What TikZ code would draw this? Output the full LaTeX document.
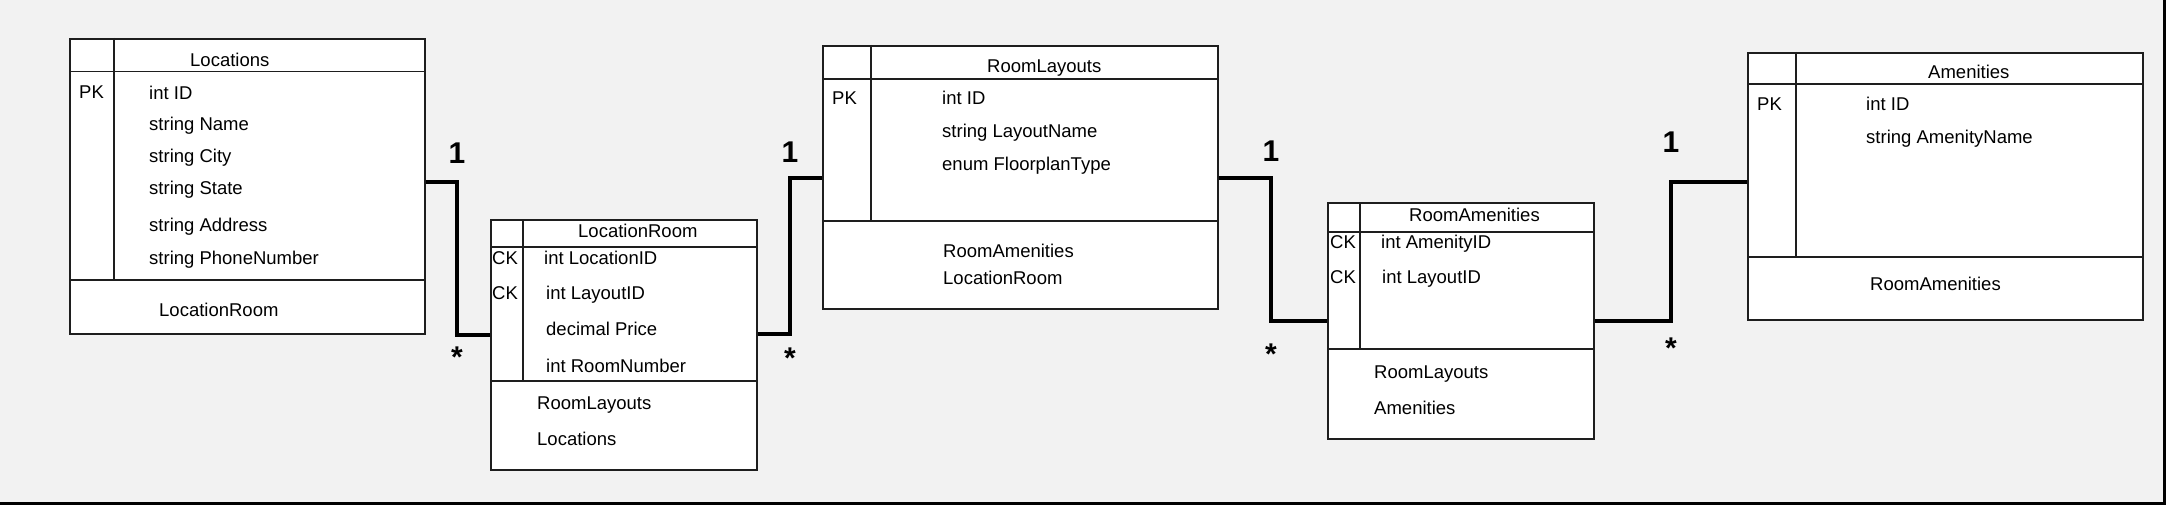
\documentclass[tikz,border=0pt]{standalone}
\usepackage{fontspec}
\setmainfont{Liberation Sans}
\definecolor{bg}{HTML}{F2F2F2}
\definecolor{ln}{HTML}{1E1E1E}
\begin{document}
\begin{tikzpicture}[x=1pt,y=-1pt,
  box/.style={draw=ln, line width=1.6pt, fill=white, inner sep=0pt, anchor=north west},
  rule/.style={draw=ln, line width=1.9pt},
  thinrule/.style={draw=ln, line width=1.3pt},
  conn/.style={draw=black, line width=3.6pt, line join=miter},
  txt/.style={anchor=base west, inner sep=0pt, font=\fontsize{18.5}{22}\selectfont},
  card/.style={anchor=base, inner sep=0pt, font=\fontsize{30}{36}\selectfont\bfseries}]
\useasboundingbox (0,0) rectangle (2168,508);
\fill[white] (0,0) rectangle (2168,508);
\fill[bg] (0,0) rectangle (2164,503);
\draw[line width=3pt] (0,503) -- (2164,503) -- (2164,0);

% ---------- Locations ----------
\node[box, minimum width=355pt, minimum height=295pt] (loc) at (69,38) {};
\draw[rule] (loc.west |- 0,71.5) -- (loc.east |- 0,71.5);
\draw[rule] (114,38) -- (114,280);
\draw[thinrule] (loc.west |- 0,280) -- (loc.east |- 0,280);
\node[txt] (loc-title) at (190,66.5) {Locations};
\node[txt] (loc-pk) at (79,98.5) {PK};
\node[txt] (loc-a1) at (149,99.5) {int ID};
\node[txt] (loc-a2) at (149,130.5) {string Name};
\node[txt] (loc-a3) at (149,162.5) {string City};
\node[txt] (loc-a4) at (149,194.5) {string State};
\node[txt] (loc-a5) at (149,231.5) {string Address};
\node[txt] (loc-a6) at (149,264.5) {string PhoneNumber};
\node[txt] (loc-m1) at (159,316.5) {LocationRoom};

% ---------- LocationRoom ----------
\node[box, minimum width=266pt, minimum height=250pt] (lr) at (490,219) {};
\draw[rule] (lr.west |- 0,247) -- (lr.east |- 0,247);
\draw[rule] (523,219) -- (523,381);
\draw[thinrule] (lr.west |- 0,381) -- (lr.east |- 0,381);
\node[txt] (lr-title) at (578,237.5) {LocationRoom};
\node[txt] (lr-ck1) at (492,264.5) {CK};
\node[txt] (lr-ck2) at (492,299.5) {CK};
\node[txt] (lr-a1) at (544,264.5) {int LocationID};
\node[txt] (lr-a2) at (546,299.5) {int LayoutID};
\node[txt] (lr-a3) at (546,335.5) {decimal Price};
\node[txt] (lr-a4) at (546,372.5) {int RoomNumber};
\node[txt] (lr-m1) at (537,409.5) {RoomLayouts};
\node[txt] (lr-m2) at (537,445.5) {Locations};

% ---------- RoomLayouts ----------
\node[box, minimum width=395pt, minimum height=263pt] (rl) at (822,45) {};
\draw[rule] (rl.west |- 0,79) -- (rl.east |- 0,79);
\draw[rule] (871,45) -- (871,221);
\draw[thinrule] (rl.west |- 0,221) -- (rl.east |- 0,221);
\node[txt] (rl-title) at (987,72.5) {RoomLayouts};
\node[txt] (rl-pk) at (832,104.5) {PK};
\node[txt] (rl-a1) at (942,104.5) {int ID};
\node[txt] (rl-a2) at (942,137.5) {string LayoutName};
\node[txt] (rl-a3) at (942,170.5) {enum FloorplanType};
\node[txt] (rl-m1) at (943,257.5) {RoomAmenities};
\node[txt] (rl-m2) at (943,284.5) {LocationRoom};

% ---------- RoomAmenities ----------
\node[box, minimum width=266pt, minimum height=236pt] (ra) at (1327,202) {};
\draw[rule] (ra.west |- 0,232) -- (ra.east |- 0,232);
\draw[rule] (1360,202) -- (1360,349);
\draw[thinrule] (ra.west |- 0,349) -- (ra.east |- 0,349);
\node[txt] (ra-title) at (1409,221.5) {RoomAmenities};
\node[txt] (ra-ck1) at (1330,248.5) {CK};
\node[txt] (ra-ck2) at (1330,283.5) {CK};
\node[txt] (ra-a1) at (1381,248.5) {int AmenityID};
\node[txt] (ra-a2) at (1382,283.5) {int LayoutID};
\node[txt] (ra-m1) at (1374,378.5) {RoomLayouts};
\node[txt] (ra-m2) at (1374,414.5) {Amenities};

% ---------- Amenities ----------
\node[box, minimum width=395pt, minimum height=267pt] (am) at (1747,52) {};
\draw[rule] (am.west |- 0,84) -- (am.east |- 0,84);
\draw[rule] (1796,52) -- (1796,257);
\draw[thinrule] (am.west |- 0,257) -- (am.east |- 0,257);
\node[txt] (am-title) at (1928,78.5) {Amenities};
\node[txt] (am-pk) at (1757,110.5) {PK};
\node[txt] (am-a1) at (1866,110.5) {int ID};
\node[txt] (am-a2) at (1866,143.5) {string AmenityName};
\node[txt] (am-m1) at (1870,290.5) {RoomAmenities};

% ---------- connectors ----------
\coordinate (k1) at (457,0);
\coordinate (k2) at (790,0);
\coordinate (k3) at (1271,0);
\coordinate (k4) at (1671,0);
\draw[conn] (loc.east |- 0,182) -- (k1 |- 0,182) -- (k1 |- 0,335) -- (lr.west |- 0,335);
\draw[conn] (lr.east |- 0,334) -- (k2 |- 0,334) -- (k2 |- 0,178) -- (rl.west |- 0,178);
\draw[conn] (rl.east |- 0,178) -- (k3 |- 0,178) -- (k3 |- 0,321) -- (ra.west |- 0,321);
\draw[conn] (ra.east |- 0,321) -- (k4 |- 0,321) -- (k4 |- 0,182) -- (am.west |- 0,182);

\node[card] (one1) at (457,164) {1};
\node[card] (one2) at (790,163) {1};
\node[card] (one3) at (1271,161) {1};
\node[card] (one4) at (1671,153) {1};
\node[card] (many1) at (457,367) {*};
\node[card] (many2) at (790,368) {*};
\node[card] (many3) at (1271,364) {*};
\node[card] (many4) at (1671,358) {*};
\end{tikzpicture}
\end{document}
